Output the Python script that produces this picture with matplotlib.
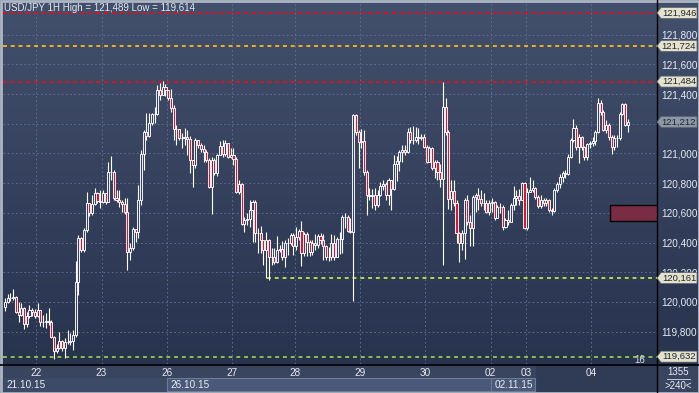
import numpy as np
import matplotlib.pyplot as plt
from matplotlib.patches import Rectangle, Polygon
from matplotlib.transforms import blended_transform_factory
from matplotlib.lines import Line2D

plt.rcParams['font.family'] = ['Liberation Sans', 'DejaVu Sans']

# USD/JPY hourly candles, 21.10.15 12:00 -> 04.11.15
first_open = 119.966
closes = [
    120.000, 120.027, 120.027, 120.034, 119.933, 119.912, 119.960, 119.852, 119.906, 119.946,
    119.933, 119.906, 119.946, 119.865, 119.865, 119.872, 119.865, 119.764, 119.670, 119.690,
    119.737, 119.690, 119.731, 119.731, 119.737, 119.778, 120.135, 120.431, 120.350, 120.485,
    120.667, 120.599, 120.660, 120.734, 120.680, 120.673, 120.734, 120.673, 120.875, 120.875,
    120.700, 120.687, 120.673, 120.660, 120.606, 120.337, 120.364, 120.492, 120.471, 120.687,
    120.997, 121.145, 121.118, 121.205, 121.266, 121.266, 121.428, 121.394, 121.448, 121.428,
    121.374, 121.306, 121.165, 121.165, 121.104, 121.104, 121.111, 121.098, 120.956, 120.923,
    121.091, 121.057, 121.030, 121.010, 120.956, 120.774, 120.956, 120.869, 120.990, 121.051,
    120.997, 121.071, 120.976, 120.990, 120.963, 120.741, 120.795, 120.525, 120.552, 120.559,
    120.620, 120.673, 120.465, 120.465, 120.418, 120.350, 120.418, 120.303, 120.303, 120.269,
    120.350, 120.357, 120.303, 120.397, 120.397, 120.451, 120.377, 120.438, 120.478, 120.330,
    120.458, 120.404, 120.337, 120.397, 120.384, 120.445, 120.418, 120.377, 120.303, 120.303,
    120.397, 120.303, 120.424, 120.424, 120.572, 120.572, 120.478, 120.471, 121.259, 121.145,
    121.077, 121.084, 120.875, 120.721, 120.714, 120.721, 120.653, 120.721, 120.781, 120.795,
    120.721, 120.822, 120.761, 120.929, 120.949, 121.010, 121.024, 121.010, 121.145, 121.091,
    121.091, 121.111, 121.104, 121.111, 121.044, 120.943, 121.037, 120.902, 120.943, 120.875,
    120.828, 121.313, 121.145, 120.694, 120.747, 120.667, 120.465, 120.397, 120.465, 120.687,
    120.539, 120.498, 120.707, 120.721, 120.694, 120.667, 120.667, 120.606, 120.667, 120.673,
    120.566, 120.640, 120.640, 120.505, 120.552, 120.539, 120.653, 120.700, 120.714, 120.687,
    120.801, 120.498, 120.741, 120.754, 120.768, 120.707, 120.646, 120.687, 120.667, 120.687,
    120.620, 120.613, 120.754, 120.795, 120.842, 120.869, 120.862, 120.976, 121.091, 121.172,
    121.044, 121.111, 121.044, 120.976, 121.064, 121.071, 121.084, 121.145, 121.340, 121.279,
    121.158, 121.192, 121.111, 121.044, 121.104, 121.104, 121.266, 121.333, 121.192, 121.212,
]
highs = [
    120.027, 120.054, 120.061, 120.087, 120.040, 120.000, 119.993, 119.966, 119.933, 119.980,
    119.960, 119.953, 119.993, 119.946, 119.912, 119.926, 119.960, 119.879, 119.771, 119.717,
    119.798, 119.744, 119.758, 119.811, 119.791, 119.811, 120.276, 120.451, 120.438, 120.498,
    120.741, 120.667, 120.721, 120.768, 120.741, 120.754, 120.754, 120.734, 120.943, 120.983,
    120.889, 120.754, 120.754, 120.687, 120.700, 120.700, 120.397, 120.505, 120.492, 120.788,
    121.024, 121.158, 121.273, 121.273, 121.273, 121.313, 121.461, 121.475, 121.489, 121.468,
    121.428, 121.434, 121.327, 121.192, 121.158, 121.138, 121.172, 121.158, 121.118, 120.956,
    121.104, 121.091, 121.071, 121.057, 121.024, 120.970, 120.976, 120.970, 120.997, 121.084,
    121.091, 121.091, 121.071, 121.037, 121.037, 120.976, 120.822, 120.801, 120.572, 120.599,
    120.687, 120.687, 120.687, 120.498, 120.512, 120.418, 120.471, 120.424, 120.364, 120.364,
    120.445, 120.384, 120.411, 120.418, 120.431, 120.465, 120.465, 120.505, 120.492, 120.546,
    120.471, 120.471, 120.418, 120.418, 120.458, 120.458, 120.465, 120.458, 120.384, 120.370,
    120.458, 120.451, 120.438, 120.471, 120.586, 120.599, 120.586, 120.566, 121.266, 121.266,
    121.158, 121.165, 121.158, 120.889, 120.768, 120.761, 120.768, 120.754, 120.808, 120.822,
    120.808, 120.835, 120.822, 120.990, 120.983, 121.024, 121.057, 121.057, 121.172, 121.178,
    121.185, 121.178, 121.172, 121.131, 121.131, 121.057, 121.051, 121.044, 120.956, 120.956,
    120.929, 121.482, 121.374, 121.158, 120.822, 120.822, 120.687, 120.471, 120.485, 120.700,
    120.721, 120.586, 120.721, 120.734, 120.768, 120.754, 120.734, 120.687, 120.687, 120.700,
    120.680, 120.653, 120.667, 120.653, 120.566, 120.620, 120.667, 120.781, 120.754, 120.761,
    120.808, 120.808, 120.768, 120.842, 120.822, 120.774, 120.721, 120.721, 120.700, 120.700,
    120.694, 120.633, 120.768, 120.808, 120.862, 120.882, 120.889, 120.997, 121.104, 121.232,
    121.192, 121.131, 121.118, 121.051, 121.071, 121.084, 121.111, 121.158, 121.374, 121.360,
    121.293, 121.226, 121.205, 121.125, 121.125, 121.125, 121.279, 121.340, 121.340, 121.232,
]
lows = [
    119.939, 119.993, 120.007, 120.013, 119.926, 119.865, 119.906, 119.818, 119.832, 119.892,
    119.906, 119.892, 119.899, 119.838, 119.832, 119.825, 119.845, 119.758, 119.614, 119.657,
    119.683, 119.670, 119.623, 119.717, 119.710, 119.677, 119.764, 120.047, 120.337, 120.337,
    120.471, 120.579, 120.586, 120.653, 120.667, 120.633, 120.667, 120.660, 120.673, 120.822,
    120.687, 120.673, 120.640, 120.606, 120.593, 120.215, 120.283, 120.350, 120.404, 120.431,
    120.653, 120.889, 121.091, 121.111, 121.192, 121.205, 121.259, 121.360, 121.394, 121.387,
    121.360, 121.279, 121.091, 121.057, 121.091, 121.037, 121.057, 120.990, 120.869, 120.774,
    120.902, 121.037, 121.010, 120.943, 120.943, 120.768, 120.593, 120.855, 120.848, 120.990,
    120.976, 120.983, 120.970, 120.970, 120.923, 120.734, 120.727, 120.519, 120.471, 120.519,
    120.505, 120.404, 120.404, 120.330, 120.330, 120.249, 120.162, 120.148, 120.249, 120.256,
    120.263, 120.337, 120.283, 120.236, 120.316, 120.384, 120.316, 120.350, 120.418, 120.242,
    120.310, 120.310, 120.310, 120.316, 120.350, 120.364, 120.391, 120.283, 120.283, 120.276,
    120.283, 120.283, 120.316, 120.323, 120.330, 120.498, 120.471, 120.465, 120.007, 121.125,
    120.902, 121.037, 120.855, 120.586, 120.687, 120.633, 120.620, 120.640, 120.714, 120.754,
    120.687, 120.653, 120.620, 120.754, 120.815, 120.882, 120.943, 120.990, 121.003, 121.071,
    121.064, 121.077, 121.064, 121.091, 121.037, 120.936, 120.943, 120.889, 120.835, 120.822,
    120.774, 120.249, 121.125, 120.626, 120.620, 120.646, 120.397, 120.269, 120.350, 120.290,
    120.519, 120.377, 120.377, 120.606, 120.620, 120.646, 120.620, 120.599, 120.586, 120.606,
    120.552, 120.566, 120.599, 120.485, 120.498, 120.519, 120.539, 120.620, 120.653, 120.653,
    120.734, 120.492, 120.485, 120.741, 120.741, 120.694, 120.633, 120.633, 120.646, 120.646,
    120.606, 120.586, 120.606, 120.741, 120.768, 120.808, 120.835, 120.855, 120.970, 121.077,
    121.024, 120.936, 121.024, 120.956, 120.956, 121.037, 121.051, 121.057, 121.138, 121.259,
    121.152, 121.138, 121.091, 120.997, 121.024, 121.044, 121.091, 121.259, 121.185, 121.145,
]
opens = [first_open] + closes[:-1]

day_labels = ['22', '23', '26', '27', '28', '29', '30', '02', '03', '04']
day_starts = [11.5, 35.5, 59.5, 83.5, 106.5, 130.5, 154.5, 178.5, 191.5, 215.5]
date_labels = ['21.10.15', '26.10.15', '02.11.15']
date_starts = [-0.7, 59.5, 178.5]
date_ends = [59.5, 178.5, 195.0]

price_ticks = [119.8, 120.0, 120.2, 120.4, 120.6, 120.8, 121.0, 121.2, 121.4, 121.6, 121.8]
hidden_ticks = [121.2]  # covered by the last-price tag
red_levels = [121.946, 121.484]
orange_level = 121.724
support_level = 120.161
support_start = 96.5
low_level = 119.632
last_price = 121.212
zone_lo, zone_hi, zone_start = 120.546, 120.653, 222.5
high_val, low_val = 121.489, 119.614

def fmt(p):
    return f"{p:,.3f}".replace('.', ',')

W, H = 699, 393
fig = plt.figure(figsize=(W / 100, H / 100), dpi=100)

# background + chrome, in pixel coordinates
bg = fig.add_axes([0, 0, 1, 1], zorder=-5)
bg.set_xlim(0, W)
bg.set_ylim(H, 0)
bg.axis('off')
top = np.array([67, 80, 108]) / 255
bot = np.array([40, 51, 78]) / 255
t = np.linspace(0, 1, 200)[:, None, None]
bg.imshow(top + (bot - top) * t, extent=[0, W, 364, 0], aspect='auto')
bg.add_patch(Rectangle((0, 364), W, 29, facecolor='#39455f', lw=0))
bg.add_patch(Rectangle((536, 364), 121, 29, facecolor='#303b56', lw=0))
bg.add_line(Line2D([657, 657], [0, 393], color='black', lw=1))
bg.add_line(Line2D([0, W], [364.5, 364.5], color='black', lw=1.2))
bg.add_patch(Rectangle((0.5, 0.5), W - 1, H - 1, facecolor='none', edgecolor='#aeb7c6', lw=2))
bg.text(678, 372, '1355', color='#e8ecf2', fontsize=7, ha='center', va='center')
bg.add_line(Line2D([667, 690], [379, 379], color='#c8ced8', lw=0.7))
bg.text(678, 386, '>240<', color='#e8ecf2', fontsize=7, ha='center', va='center')

ax = fig.add_axes([3 / W, 29 / H, 654 / W, 362 / H], zorder=1)
ax.patch.set_alpha(0)
ax.set_xlim(-0.735, 239.7)
ax.set_ylim(119.5825, 122.020)
for s in ax.spines.values():
    s.set_visible(False)

ax.set_xticks(day_starts)
ax.set_xticklabels(day_labels)
ax.set_yticks(price_ticks)
ax.set_yticklabels(['' if p in hidden_ticks else fmt(p) for p in price_ticks])
ax.yaxis.tick_right()
ax.tick_params(axis='both', length=0, colors='#e6eaf2', labelsize=7.2)
ax.tick_params(axis='y', pad=3)
ax.tick_params(axis='x', pad=3)
ax.grid(True, color='#63739a', lw=0.6, linestyle=(0, (2, 3)))
ax.set_axisbelow(True)

# date boxes under the day labels
tb = blended_transform_factory(ax.transData, ax.transAxes)
y0 = -(391 - 364) / 362
hgt = (391 - 378) / 362
for lab, a, b in zip(date_labels, date_starts, date_ends):
    fc = '#3d4a66' if a < 0 else '#4a5977'
    ec = '#3d4a66' if a < 0 else '#6c7b98'
    ax.add_patch(Rectangle((a, y0), b - a, hgt, transform=tb, clip_on=False,
                           facecolor=fc, edgecolor=ec, lw=0.8))
    ax.text(a + 1.4, y0 + hgt / 2, lab, transform=tb, clip_on=False,
            color='#e8ecf2', fontsize=7.2, va='center', ha='left')

# level lines
for lv in red_levels:
    ax.axhline(lv, color='#e0101e', lw=1.4, linestyle=(0, (2, 2)), zorder=2)
ax.axhline(orange_level, color='#f2b01e', lw=1.4, linestyle=(0, (2, 2)), zorder=2)
ax.hlines(support_level, support_start, 239.7, color='#b5d94a', lw=1.4,
          linestyle=(0, (2, 2)), zorder=2)
ax.axhline(low_level, color='#8fc04a', lw=1.4, linestyle=(0, (2, 2)), zorder=2)

ax.add_patch(Rectangle((zone_start, zone_lo), 239.7 - zone_start, zone_hi - zone_lo,
                       facecolor='#7a2c44', edgecolor='black', lw=1, zorder=3))

# candles
bw = 0.76
for i, (o, h, l, c) in enumerate(zip(opens, highs, lows, closes)):
    lo_b, hi_b = min(o, c), max(o, c)
    ax.vlines(i, hi_b, h, color='white', lw=0.8, zorder=4)
    ax.vlines(i, l, lo_b, color='white', lw=0.8, zorder=4)
    fc = '#e8102a' if c < o else '#36425d'
    ax.add_patch(Rectangle((i - bw / 2, lo_b), bw, max(hi_b - lo_b, 0.001),
                           facecolor=fc, edgecolor='white', lw=0.65, zorder=5))

ax.text(233.5, low_level - 0.022, '16', color='#d8dce4', fontsize=7, ha='center', va='center', zorder=6)

# price tags on the right axis
tr = blended_transform_factory(ax.transAxes, ax.transData)
tag_h = 0.037
tip = 4 / 654
right = 1 + 40 / 654
tags = [(121.946, '#e4e1cc'), (orange_level, '#e4e1cc'), (121.484, '#e4e1cc'),
        (support_level, '#e4e1cc'), (low_level, '#e4e1cc'), (last_price, '#8e97a6')]
for p, col in tags:
    pts = [(1.0, p), (1 + tip, p + tag_h), (right, p + tag_h), (right, p - tag_h), (1 + tip, p - tag_h)]
    ax.add_patch(Polygon(pts, closed=True, transform=tr, clip_on=False,
                         facecolor=col, edgecolor='#5a6070', lw=0.5, zorder=7))
    ax.text(1 + 22 / 654, p, fmt(p), transform=tr, clip_on=False, color='#222630',
            fontsize=6.8, ha='center', va='center', zorder=8)

fig.text(4 / W, 1 - 8 / H, f"USD/JPY 1H High = {fmt(high_val)} Low = {fmt(low_val)}",
         color='#e4e8f0', fontsize=7, va='center', ha='left')

fig.savefig('out.png', dpi=100)
